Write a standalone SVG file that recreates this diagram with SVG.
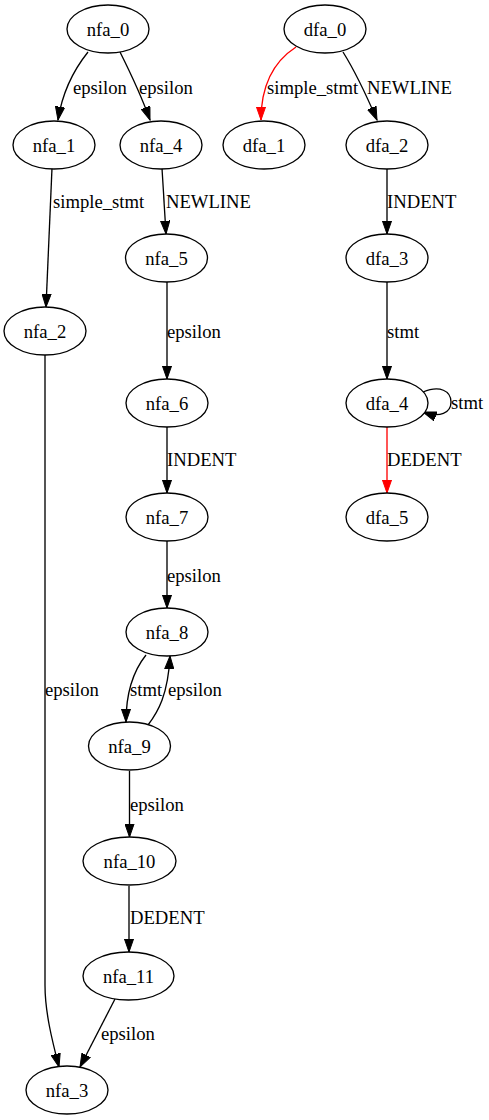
<svg xmlns="http://www.w3.org/2000/svg" width="489" height="1120" viewBox="0 0 489 1120">
<style>
.n ellipse{fill:#fff;stroke:#000;stroke-width:1.33}
.n text{font-family:"Liberation Serif","Times New Roman",serif;font-size:18.67px;text-anchor:middle;fill:#000}
.e path{fill:none;stroke:#000;stroke-width:1.33;marker-end:url(#ah)}
.e path.r{stroke:#f00;marker-end:url(#ahr)}
.l text{font-family:"Liberation Serif","Times New Roman",serif;font-size:18.67px;fill:#000}
</style>
<defs>
<marker id="ah" viewBox="0 0 14 10" refX="13.3" refY="5" markerWidth="14" markerHeight="10" markerUnits="userSpaceOnUse" orient="auto"><path d="M0,0.33 L13.3,5 L0,9.67 z" fill="#000" stroke="#000" stroke-width="1"/></marker>
<marker id="ahr" viewBox="0 0 14 10" refX="13.3" refY="5" markerWidth="14" markerHeight="10" markerUnits="userSpaceOnUse" orient="auto"><path d="M0,0.33 L13.3,5 L0,9.67 z" fill="#f00" stroke="#f00" stroke-width="1"/></marker>
</defs>
<rect width="489" height="1120" fill="#fff"/>
<g id="edges" class="e">
<path d="M88,52 C76,67 63,88 58,120"/>
<path d="M120,52 C128,68 140,92 150,120"/>
<path class="r" d="M296,47 C273,62 261,85 261,120"/>
<path d="M343,52 C353,68 365,92 377,120"/>
<path d="M52,168 L46,307"/>
<path d="M162,168 L166,234"/>
<path d="M167,282 L167,379"/>
<path d="M167,427 L167,493"/>
<path d="M167,541 L167,608"/>
<path d="M146,655 C134,670 126,690 126,722"/>
<path d="M148,725 C158,712 168,695 170,656"/>
<path d="M129.5,771 L129.5,837"/>
<path d="M129,886 L129,952"/>
<path d="M115,999 L80,1067"/>
<path d="M45,355 L45,985 C45,1012 52,1040 59,1067"/>
<path d="M387,169 L387,234"/>
<path d="M387,282 L387,379"/>
<path d="M423,392 C440,385 451,391 451,402 C451,413 440,418 423,412"/>
<path class="r" d="M387,427 L387,493"/>
</g>
<g id="labels" class="l">
<text x="73" y="94">epsilon</text>
<text x="139" y="94">epsilon</text>
<text x="267" y="94">simple_stmt</text>
<text x="367" y="94">NEWLINE</text>
<text x="53" y="208">simple_stmt</text>
<text x="166" y="208">NEWLINE</text>
<text x="387" y="208">INDENT</text>
<text x="167" y="338">epsilon</text>
<text x="387" y="338">stmt</text>
<text x="167" y="466">INDENT</text>
<text x="387" y="466">DEDENT</text>
<text x="451" y="409">stmt</text>
<text x="167" y="582">epsilon</text>
<text x="45" y="696">epsilon</text>
<text x="130" y="696">stmt</text>
<text x="168" y="696">epsilon</text>
<text x="130" y="811">epsilon</text>
<text x="130" y="924">DEDENT</text>
<text x="101" y="1040">epsilon</text>
</g>
<g id="nfa_0" class="n"><ellipse cx="108" cy="29" rx="41" ry="24"/><text x="108" y="35.5">nfa_0</text></g>
<g id="nfa_1" class="n"><ellipse cx="54" cy="145" rx="41" ry="24"/><text x="54" y="151.5">nfa_1</text></g>
<g id="nfa_4" class="n"><ellipse cx="161" cy="145" rx="41" ry="24"/><text x="161" y="151.5">nfa_4</text></g>
<g id="nfa_2" class="n"><ellipse cx="45" cy="331" rx="41" ry="24"/><text x="45" y="337.5">nfa_2</text></g>
<g id="nfa_5" class="n"><ellipse cx="166.5" cy="258" rx="41" ry="24"/><text x="166.5" y="264.5">nfa_5</text></g>
<g id="nfa_6" class="n"><ellipse cx="167" cy="403" rx="41" ry="24"/><text x="167" y="409.5">nfa_6</text></g>
<g id="nfa_7" class="n"><ellipse cx="167" cy="517" rx="41" ry="24"/><text x="167" y="523.5">nfa_7</text></g>
<g id="nfa_8" class="n"><ellipse cx="167" cy="632" rx="41" ry="24"/><text x="167" y="638.5">nfa_8</text></g>
<g id="nfa_9" class="n"><ellipse cx="129.5" cy="746" rx="41" ry="24"/><text x="129.5" y="752.5">nfa_9</text></g>
<g id="nfa_10" class="n"><ellipse cx="129.5" cy="861" rx="46.5" ry="24"/><text x="129.5" y="867.5">nfa_10</text></g>
<g id="nfa_11" class="n"><ellipse cx="128.5" cy="976" rx="45.5" ry="24"/><text x="128.5" y="982.5">nfa_11</text></g>
<g id="nfa_3" class="n"><ellipse cx="67" cy="1090" rx="41" ry="24"/><text x="67" y="1096.5">nfa_3</text></g>
<g id="dfa_0" class="n"><ellipse cx="325" cy="29" rx="41" ry="24"/><text x="325" y="35.5">dfa_0</text></g>
<g id="dfa_1" class="n"><ellipse cx="264" cy="145" rx="41" ry="24"/><text x="264" y="151.5">dfa_1</text></g>
<g id="dfa_2" class="n"><ellipse cx="387" cy="145" rx="41" ry="24"/><text x="387" y="151.5">dfa_2</text></g>
<g id="dfa_3" class="n"><ellipse cx="387" cy="258" rx="41" ry="24"/><text x="387" y="264.5">dfa_3</text></g>
<g id="dfa_4" class="n"><ellipse cx="387" cy="403" rx="41" ry="24"/><text x="387" y="409.5">dfa_4</text></g>
<g id="dfa_5" class="n"><ellipse cx="387" cy="517" rx="41" ry="24"/><text x="387" y="523.5">dfa_5</text></g>
</svg>
